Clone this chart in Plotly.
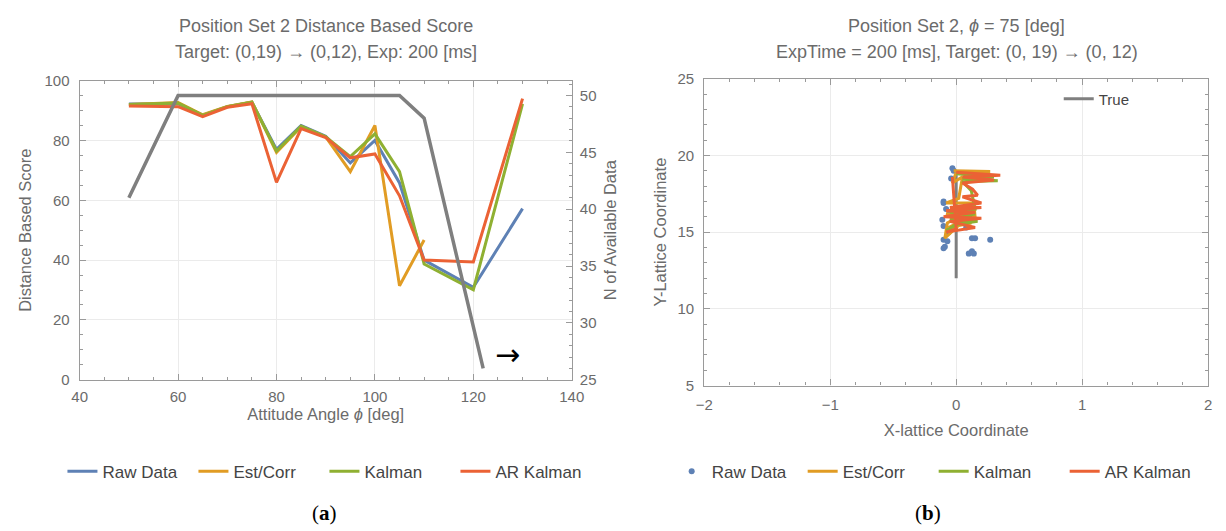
import plotly.graph_objects as go

# ---- Panel (a): distance based score vs attitude angle ----
angles = [50, 55, 60, 65, 70, 75, 80, 85, 90, 95, 100, 105, 110, 115, 120, 125, 130]
raw_score = [92.2, 92.3, 92.3, 88.5, 91.3, 92.8, 77.0, 85.0, 81.4, 72.5, 80.0, 65.8, 40.0, None, 30.9, None, 57.2]
estcorr_score = [92.0, 92.4, 92.7, 88.6, 91.4, 92.9, 76.0, 84.6, 81.2, 69.6, 85.0, 31.4, 46.7, None, None, None, None]
kalman_score = [92.0, 92.3, 92.5, 88.4, 91.3, 92.8, 76.5, 84.8, 81.2, 74.6, 82.2, 69.6, 38.7, None, 30.1, None, 92.2]
ar_score = [91.5, 91.4, 91.3, 88.0, 91.1, 92.3, 66.0, 84.0, 81.0, 74.2, 75.5, 61.5, 40.0, None, 39.4, None, 94.0]

n_angles = [50, 60, 65, 70, 75, 80, 85, 90, 95, 100, 105, 110, 122]
n_available = [41, 50, 50, 50, 50, 50, 50, 50, 50, 50, 50, 48, 26]

# ---- Panel (b): lattice coordinates at phi = 75 deg ----
raw_x = [-0.03, -0.02, -0.04, -0.10, -0.10, -0.11, -0.10, -0.10, -0.07, -0.09, -0.10,
         0.125, 0.15, 0.27, 0.10, 0.125, 0.14, 0.11, 0.125, -0.06, -0.05, 0.05, 0.08, -0.08]
raw_y = [19.17, 19.0, 18.5, 17.0, 16.9, 15.8, 15.4, 14.5, 14.4, 14.05, 13.95,
         14.6, 14.6, 14.5, 13.6, 13.75, 13.6, 16.7, 16.05, 15.0, 16.3, 15.6, 15.3, 16.5]

est_x = [-0.02, 0.27, 0.00, -0.03, 0.05, 0.02, -0.08, 0.14, 0.15, -0.08, 0.12, -0.06, 0.08, -0.09, -0.07, 0.10, -0.05]
est_y = [19.00, 18.95, 18.90, 18.20, 18.60, 17.20, 16.90, 16.90, 16.00, 16.20, 15.60, 15.30, 15.90, 14.60, 15.60, 16.40, 15.20]

kal_x = [0.00, 0.30, 0.05, 0.33, 0.05, 0.12, 0.15, -0.05, 0.15, -0.05, 0.17, 0.00, -0.08, 0.12, -0.03]
kal_y = [18.80, 18.60, 18.50, 18.35, 18.30, 17.70, 16.50, 16.30, 16.20, 15.80, 15.70, 15.50, 15.10, 16.00, 16.60]

ar_x = [0.00, 0.35, 0.05, 0.30, 0.05, 0.13, 0.17, 0.05, 0.20, -0.05, 0.20, -0.08, 0.15, -0.10, 0.20, -0.05, 0.15, -0.08, 0.00, -0.03]
ar_y = [18.90, 18.70, 18.60, 18.40, 18.20, 17.80, 17.40, 17.30, 16.90, 16.60, 16.60, 16.40, 16.30, 16.00, 15.90, 15.70, 15.30, 15.00, 15.20, 18.60]

true_x = [0, 0]
true_y = [12, 19]

BLUE = "#5E81B5"
ORANGE = "#E19C24"
GREEN = "#8FB032"
RED = "#EB6235"
GRAY = "#7F7F7F"
TEXT = "#6b6b6b"
FRAME = "#9a9a9a"
GRID = "#ebebeb"
FONT = "Liberation Sans"

fig = go.Figure()

series_a = [("Raw Data", raw_score, BLUE), ("Est/Corr", estcorr_score, ORANGE),
            ("Kalman", kalman_score, GREEN), ("AR Kalman", ar_score, RED)]
for name, vals, col in series_a:
    fig.add_trace(go.Scatter(x=angles, y=vals, mode="lines", name=name,
                             line=dict(color=col, width=3), connectgaps=True,
                             xaxis="x", yaxis="y", legend="legend"))

fig.add_trace(go.Scatter(x=n_angles, y=n_available, mode="lines", showlegend=False,
                         line=dict(color=GRAY, width=3.5), xaxis="x", yaxis="y2"))

fig.add_trace(go.Scatter(x=true_x, y=true_y, mode="lines", name="True",
                         line=dict(color=GRAY, width=3), xaxis="x2", yaxis="y3",
                         legend="legend3"))
fig.add_trace(go.Scatter(x=raw_x, y=raw_y, mode="markers", name="Raw Data",
                         marker=dict(color=BLUE, size=6), xaxis="x2", yaxis="y3",
                         legend="legend2"))
for name, xs, ys, col in [("Est/Corr", est_x, est_y, ORANGE), ("Kalman", kal_x, kal_y, GREEN),
                          ("AR Kalman", ar_x, ar_y, RED)]:
    fig.add_trace(go.Scatter(x=xs, y=ys, mode="lines", name=name,
                             line=dict(color=col, width=3), xaxis="x2", yaxis="y3",
                             legend="legend2"))

axis_common = dict(showline=True, linecolor=FRAME, linewidth=1.2, ticks="inside",
                   tickcolor=FRAME, ticklen=6, tickwidth=1, showgrid=True, gridcolor=GRID,
                   gridwidth=1, zeroline=False, tickfont=dict(family=FONT, size=15, color=TEXT),
                   title_font=dict(family=FONT, size=16.5, color=TEXT))
minor_common = dict(ticks="inside", ticklen=3, tickcolor=FRAME, showgrid=False)

legend_font = dict(family=FONT, size=17, color="#444")

fig.update_layout(
    width=1226, height=531, margin=dict(l=0, r=0, t=0, b=0),
    paper_bgcolor="white", plot_bgcolor="white", showlegend=True,
    xaxis=dict(axis_common, domain=[0.0587, 0.4674], anchor="y", range=[40, 140],
               dtick=20, mirror="ticks", minor=dict(minor_common, dtick=5),
               ticklabelstandoff=3,
               title=dict(text="Attitude Angle <i>ϕ</i> [deg]", standoff=0)),
    yaxis=dict(axis_common, domain=[0.2787, 0.8606], anchor="x", range=[0, 100],
               dtick=20, minor=dict(minor_common, dtick=5), ticklabelstandoff=6,
               title=dict(text="Distance Based Score", standoff=8)),
    yaxis2=dict(axis_common, overlaying="y", side="right", anchor="x", range=[25, 51.3],
                tickvals=[25, 30, 35, 40, 45, 50], showgrid=False, ticklabelstandoff=4,
                minor=dict(minor_common, dtick=1),
                title=dict(text="N of Available Data", standoff=8)),
    xaxis2=dict(axis_common, domain=[0.5775, 0.9959], anchor="y3", range=[-2, 2],
                dtick=1, mirror="ticks", minor=dict(minor_common, dtick=0.2),
                ticklabelstandoff=5,
                title=dict(text="X-lattice Coordinate", standoff=12)),
    yaxis3=dict(axis_common, domain=[0.2674, 0.8644], anchor="x2", range=[5, 25],
                dtick=5, mirror="ticks", minor=dict(minor_common, dtick=1),
                ticklabelstandoff=6,
                title=dict(text="Y-Lattice Coordinate", standoff=6)),
    legend=dict(orientation="h", x=0.262, y=0.10, xanchor="center", yanchor="middle",
                font=legend_font, bgcolor="rgba(0,0,0,0)", entrywidth=86),
    legend2=dict(orientation="h", x=0.768, y=0.10, xanchor="center", yanchor="middle",
                 font=legend_font, bgcolor="rgba(0,0,0,0)", entrywidth=86),
    legend3=dict(x=0.935, y=0.825, xanchor="right", yanchor="middle",
                 font=dict(family=FONT, size=15, color="#444"), bgcolor="rgba(0,0,0,0)"),
)

title_font = dict(family=FONT, size=18, color=TEXT)
titles = [
    (0.263, "Position Set 2 Distance Based Score", "Target: (0,19) → (0,12), Exp: 200 [ms]"),
    (0.787, "Position Set 2, <i>ϕ</i> = 75 [deg]", "ExpTime = 200 [ms], Target: (0, 19) → (0, 12)"),
]
for xc, line1, line2 in titles:
    fig.add_annotation(text=line1, xref="paper", yref="paper", x=xc, y=1 - 18 / 531,
                       xanchor="center", yanchor="middle", showarrow=False, font=title_font)
    fig.add_annotation(text=line2, xref="paper", yref="paper", x=xc, y=1 - 44 / 531,
                       xanchor="center", yanchor="middle", showarrow=False, font=title_font)

fig.add_annotation(text="→", xref="x", yref="y2", x=127, y=27.2, showarrow=False,
                   xanchor="center", yanchor="middle",
                   font=dict(family="DejaVu Sans", size=30, color="black"))
fig.add_annotation(text="(<b>a</b>)", xref="paper", yref="paper", x=0.262, y=1 - 521 / 531,
                   xanchor="center", yanchor="middle", showarrow=False,
                   font=dict(family="Liberation Serif", size=21, color="black"))
fig.add_annotation(text="(<b>b</b>)", xref="paper", yref="paper", x=0.763, y=1 - 521 / 531,
                   xanchor="center", yanchor="middle", showarrow=False,
                   font=dict(family="Liberation Serif", size=21, color="black"))

fig.write_html("out.html")
